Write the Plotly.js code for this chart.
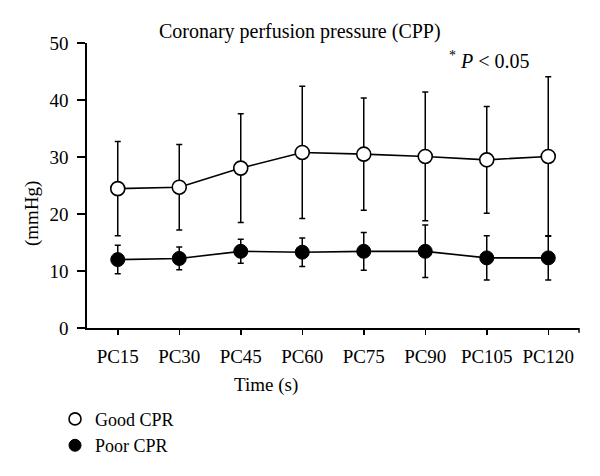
<!DOCTYPE html>
<html>
<head>
<meta charset="utf-8">
<script src="https://cdn.plot.ly/plotly-3.0.1.min.js"></script>
<style>html,body{margin:0;padding:0;background:#fff}#chart{width:600px;height:476px}</style>
</head>
<body>
<div id="chart"></div>
<script>
const categories = ["PC15","PC30","PC45","PC60","PC75","PC90","PC105","PC120"];
const goodMean = [24.45, 24.7, 28.05, 30.8, 30.5, 30.1, 29.5, 30.1];
const goodSD   = [8.25, 7.5, 9.55, 11.6, 9.85, 11.3, 9.35, 14.0];
const poorMean = [12.0, 12.2, 13.45, 13.3, 13.45, 13.45, 12.3, 12.3];
const poorSD   = [2.5, 2.0, 2.1, 2.5, 3.3, 4.6, 3.9, 3.9];
const seriesNames = ["Good CPR", "Poor CPR"];
const yTicks = [0, 10, 20, 30, 40, 50];

const FONT = "Liberation Serif";
const black = "#000";

const traces = [
  {
    x: categories, y: goodMean, type: "scatter", mode: "lines+markers",
    name: seriesNames[0], showlegend: false,
    line: {color: black, width: 1.6},
    marker: {symbol: "circle", size: 14, color: "#fff", line: {color: black, width: 1.6}},
    error_y: {type: "data", array: goodSD, visible: true, color: black, thickness: 1.5, width: 3}
  },
  {
    x: categories, y: poorMean, type: "scatter", mode: "lines+markers",
    name: seriesNames[1], showlegend: false,
    line: {color: black, width: 1.6},
    marker: {symbol: "circle", size: 14, color: black, line: {color: black, width: 1}},
    error_y: {type: "data", array: poorSD, visible: true, color: black, thickness: 1.5, width: 3}
  },
  {
    x: [null], y: [null], type: "scatter", mode: "markers", name: seriesNames[0],
    marker: {symbol: "circle", size: 12, color: "#fff", line: {color: black, width: 1.6}}
  },
  {
    x: [null], y: [null], type: "scatter", mode: "markers", name: seriesNames[1],
    marker: {symbol: "circle", size: 12, color: black, line: {color: black, width: 1}}
  }
];

const layout = {
  width: 600, height: 476,
  margin: {l: 87, r: 21, t: 43, b: 145},
  paper_bgcolor: "#fff", plot_bgcolor: "#fff",
  font: {family: FONT, size: 19, color: black},
  showlegend: true,
  legend: {
    x: -0.065, y: -0.255, xanchor: "left", yanchor: "top",
    font: {family: FONT, size: 18, color: black},
    bgcolor: "rgba(0,0,0,0)", borderwidth: 0, tracegroupgap: 0
  },
  xaxis: {
    type: "category", categoryorder: "array", categoryarray: categories,
    range: [-0.5, 7.5], showgrid: false, zeroline: false,
    showline: true, linecolor: black, linewidth: 1.6,
    ticks: "outside", ticklen: 5, tickwidth: 1.5, tickcolor: black,
    ticklabelstandoff: 6,
    tickfont: {family: FONT, size: 19, color: black},
    fixedrange: true
  },
  yaxis: {
    range: [0, 50], tickvals: yTicks, showgrid: false, zeroline: false,
    showline: true, linecolor: black, linewidth: 1.6,
    ticks: "outside", ticklen: 8, tickwidth: 1.5, tickcolor: black,
    ticklabelstandoff: 5,
    tickfont: {family: FONT, size: 19, color: black},
    fixedrange: true
  },
  shapes: [
    {type: "line", xref: "paper", yref: "paper", x0: 1, x1: 1, y0: 0, y1: -0.017,
     line: {color: black, width: 1.5}}
  ],
  annotations: [
    {text: "Coronary perfusion pressure (CPP)", xref: "paper", yref: "paper",
     x: 0.433, y: 1.042, xanchor: "center", yanchor: "middle", showarrow: false,
     font: {family: FONT, size: 20, color: black}},
    {text: "<sup>*</sup> <i>P</i> &lt; 0.05", xref: "paper", yref: "paper",
     x: 0.819, y: 0.941, xanchor: "center", yanchor: "middle", showarrow: false,
     font: {family: FONT, size: 20, color: black}},
    {text: "Time (s)", xref: "paper", yref: "paper",
     x: 0.364, y: -0.2, xanchor: "center", yanchor: "middle", showarrow: false,
     font: {family: FONT, size: 19, color: black}},
    {text: "(mmHg)", xref: "paper", yref: "paper", textangle: -90,
     x: -0.112, y: 0.403, xanchor: "center", yanchor: "middle", showarrow: false,
     font: {family: FONT, size: 19, color: black}}
  ]
};

Plotly.newPlot("chart", traces, layout, {displayModeBar: false, staticPlot: true});
</script>
</body>
</html>
